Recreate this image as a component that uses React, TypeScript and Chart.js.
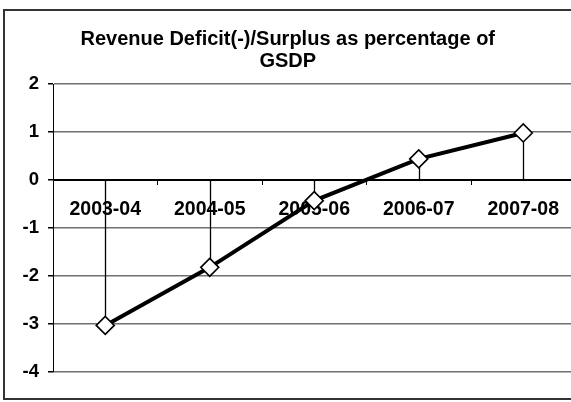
import React, { useEffect, useRef } from "react";
import { Chart, registerables } from "chart.js";

Chart.register(...registerables);

const categories = ["2003-04", "2004-05", "2005-06", "2006-07", "2007-08"];
const values = [-3.03, -1.82, -0.43, 0.44, 0.98];
const yMin = -4;
const yMax = 2;
const yStep = 1;
const titleLines = ["Revenue Deficit(-)/Surplus as percentage of", "GSDP"];

const FONT = "'Liberation Sans', Arial, Helvetica, sans-serif";

const dropLines = {
  id: "dropLines",
  beforeDatasetsDraw(chart: any) {
    const meta = chart.getDatasetMeta(0);
    const y0 = chart.scales.y.getPixelForValue(0);
    const ctx = chart.ctx;
    ctx.save();
    ctx.strokeStyle = "#000";
    ctx.lineWidth = 1.3;
    meta.data.forEach((pt: any) => {
      const x = Math.round(pt.x) + 0.5;
      ctx.beginPath();
      ctx.moveTo(x, y0);
      ctx.lineTo(x, pt.y);
      ctx.stroke();
    });
    ctx.restore();
  },
};

const frame = {
  id: "frame",
  beforeDraw(chart: any) {
    const ctx = chart.ctx;
    ctx.save();
    ctx.fillStyle = "#fff";
    ctx.fillRect(0, 0, chart.width, chart.height);
    ctx.restore();
  },
  afterDraw(chart: any) {
    const ctx = chart.ctx;
    ctx.save();
    ctx.strokeStyle = "#333";
    ctx.lineWidth = 2;
    ctx.strokeRect(4, 10, chart.width + 20, 389);
    ctx.restore();
  },
};

export default function App() {
  const ref = useRef<HTMLCanvasElement | null>(null);

  useEffect(() => {
    if (!ref.current) return;
    const chart = new Chart(ref.current, {
      type: "line",
      data: {
        labels: categories,
        datasets: [
          {
            data: values,
            borderColor: "#000",
            borderWidth: 4,
            tension: 0,
            pointStyle: "rectRot",
            pointRadius: 9,
            pointBorderWidth: 1.6,
            pointBackgroundColor: "#fff",
            pointBorderColor: "#000",
          },
        ],
      },
      options: {
        responsive: false,
        animation: false,
        devicePixelRatio: 1,
        layout: { padding: { left: 0, right: 14.5, top: 0, bottom: 30 } },
        plugins: {
          legend: { display: false },
          tooltip: { enabled: false },
          title: {
            display: true,
            text: titleLines,
            color: "#000",
            font: { family: FONT, size: 20, weight: "bold", lineHeight: "22px" },
            padding: { top: 28.5, bottom: 11.5 },
          },
        },
        scales: {
          x: {
            type: "category",
            position: { y: 0 },
            offset: true,
            grid: {
              display: true,
              offset: true,
              drawOnChartArea: false,
              drawTicks: true,
              tickLength: 4,
              color: "#000",
              tickColor: "#000",
            },
            border: { display: true, color: "#000", width: 1 },
            ticks: {
              color: "#000",
              padding: 13.5,
              maxRotation: 0,
              autoSkip: false,
              font: { family: FONT, size: 19.5, weight: "bold" },
            },
          },
          y: {
            type: "linear",
            min: yMin,
            max: yMax,
            position: "left",
            afterFit(scale: any) {
              scale.width = 53;
            },
            grid: {
              color: (ctx: any) => (ctx.tick && ctx.tick.value === 0 ? "#000" : "#707070"),
              lineWidth: 1.5,
              tickColor: "#000",
              tickLength: 5,
              drawTicks: true,
            },
            border: { display: true, color: "#000", width: 1 },
            ticks: {
              stepSize: yStep,
              color: "#000",
              padding: 9,
              font: { family: FONT, size: 18.5, weight: "bold" },
            },
          },
        },
      },
      plugins: [dropLines, frame],
    } as any);
    return () => chart.destroy();
  }, []);

  return (
    <div
      style={{
        position: "fixed",
        left: 0,
        top: 0,
        width: 571,
        height: 402,
        overflow: "hidden",
        background: "#fff",
      }}
    >
      <canvas ref={ref} width={590} height={402} style={{ display: "block" }} />
    </div>
  );
}
